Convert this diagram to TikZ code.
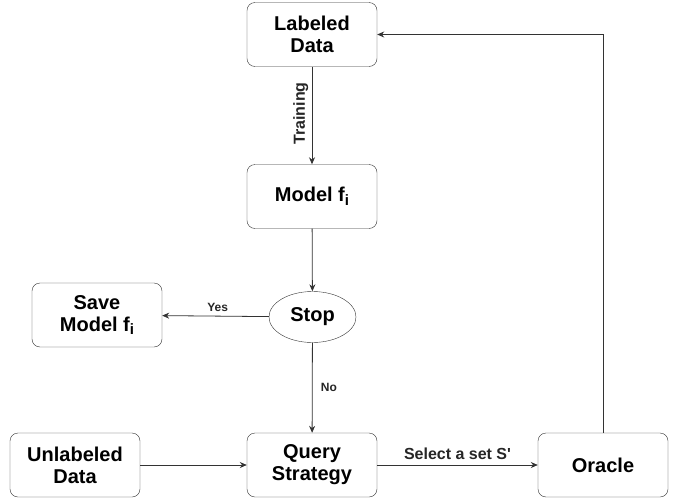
\documentclass[tikz,border=0pt]{standalone}
\usepackage{fontspec}
\setmainfont{Liberation Sans}
\usetikzlibrary{shapes.geometric,arrows.meta}
\newcommand{\subi}{\raisebox{-0.35ex}{\fontsize{15}{15}\selectfont i}}

\begin{document}
\begin{tikzpicture}[x=1pt,y=-1pt,
  stepbox/.style={draw=black!80, rounded corners=8pt, minimum width=130pt, minimum height=64pt, align=center, font=\fontsize{20}{22}\selectfont\bfseries},
  decision/.style={draw=black!80, ellipse, minimum width=87pt, minimum height=51pt, inner sep=1pt, font=\fontsize{20}{22}\selectfont\bfseries},
  flow/.style={draw=black!80, line width=0.8pt, -{Stealth[length=7pt,width=6pt]}},
  biglabel/.style={font=\fontsize{16}{16}\selectfont\bfseries, text=black!85},
  smalllabel/.style={font=\fontsize{12}{12}\selectfont\bfseries, text=black!85}
  ]
\useasboundingbox (0,0) rectangle (678,498);

\node[stepbox] (labeled) at (312,34.5) {Labeled\\Data};
\node[stepbox] (model) at (312,196.5) {Model f\subi};
\node[decision] (stop) at (312.5,317) {Stop};
\node[stepbox] (save) at (97,315) {Save\\Model f\subi};
\node[stepbox] (unlabeled) at (75,465) {Unlabeled\\Data};
\node[stepbox] (query) at (312,465) {Query\\Strategy};
\node[stepbox] (oracle) at (603,465) {Oracle};

\draw[flow] (labeled) -- node[biglabel, rotate=90, anchor=south, pos=0.48] {Training} (model);
\draw[flow] (model) -- (stop);
\draw[flow] (stop) -- node[smalllabel, above, pos=0.48, yshift=1pt] {Yes} (save);
\draw[flow] (stop) -- node[smalllabel, right, xshift=5pt, pos=0.5] {No} (query);
\draw[flow] (unlabeled) -- (query);
\draw[flow] (query) -- node[biglabel, above, yshift=2pt] {Select a set S\textquotesingle} (oracle);
\draw[flow] (oracle.north) |- (labeled.east);
\end{tikzpicture}
\end{document}
